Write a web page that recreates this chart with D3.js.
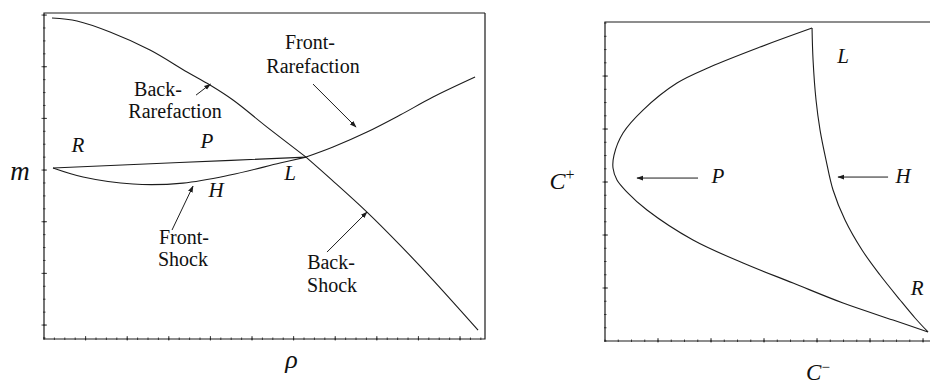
<!DOCTYPE html>
<html>
<head>
<meta charset="utf-8">
<script src="https://cdn.jsdelivr.net/npm/d3@7"></script>
<style>
  html, body { margin: 0; padding: 0; background: #fff; }
  svg { display: block; }
</style>
</head>
<body>
<svg id="chart" width="930" height="385"></svg>
<script>
// ---- Left panel: mass flux m against density rho ----
const backRarefaction = [
  [0.192, 5.942], [0.793, 5.884], [1.587, 5.671], [2.548, 5.322], [3.438, 4.897],
  [3.990, 4.645], [4.543, 4.355], [5.361, 3.832], [6.298, 3.251]
];
const backShock = [
  [6.298, 3.251], [6.923, 2.806], [7.764, 2.187], [8.558, 1.548], [9.351, 0.871], [10.433, -0.097]
];
const frontRarefaction = [
  [6.298, 3.251], [6.947, 3.445], [7.764, 3.735], [8.558, 4.064], [9.351, 4.413], [10.361, 4.800]
];
const frontShock = [
  [0.216, 3.039], [0.938, 2.865], [2.139, 2.729], [3.341, 2.748], [4.471, 2.903], [5.673, 3.135], [6.298, 3.251]
];
const pathP = [
  [0.216, 3.039], [3.257, 3.145], [6.298, 3.251]
];

// ---- Right panel: C+ against C- ----
const curveP = [
  [3.906, 5.906], [2.925, 5.547], [1.981, 5.170], [1.358, 4.868], [0.717, 4.358], [0.340, 3.925],
  [0.170, 3.509], [0.151, 3.264], [0.226, 3.038], [0.415, 2.811], [0.792, 2.472], [1.660, 1.906],
  [2.604, 1.472], [3.547, 1.094], [4.491, 0.717], [5.434, 0.396], [6.094, 0.170]
];
const curveH = [
  [3.906, 5.906], [3.925, 5.302], [3.981, 4.547], [4.057, 3.981], [4.170, 3.415], [4.302, 2.849],
  [4.528, 2.283], [4.849, 1.717], [5.189, 1.245], [5.566, 0.774], [5.849, 0.434], [6.094, 0.170]
];

// tick values
const leftXTicks = [1, 2, 3, 4, 5, 6, 7, 8, 9, 10];
const leftYTicks = [0, 1, 2, 3, 4, 5, 6];
const rightXTicks = [1, 2, 3, 4, 5, 6];
const rightYTicks = [1, 2, 3, 4, 5];

// text: point labels [text, x, y] and two-line notes [text, x, y]
const leftPointLabels = [["R", 0.817, 3.348], ["P", 3.918, 3.426], ["L", 5.913, 2.806], ["H", 4.135, 2.477]];
const leftNotes = [
  [["Back-", 2.740, 4.432], ["Rarefaction", 3.149, 4.007]],
  [["Front-", 6.394, 5.341], ["Rarefaction", 6.466, 4.878]],
  [["Front-", 3.365, 1.567], ["Shock", 3.341, 1.142]],
  [["Back-", 6.899, 1.083], ["Shock", 6.923, 0.639]]
];
const leftArrows = [
  [3.654, 4.451, 4.000, 4.664],
  [6.466, 4.664, 7.500, 3.832],
  [3.077, 1.839, 3.582, 2.690],
  [6.803, 1.413, 7.764, 2.187]
];
const rightPointLabels = [["L", 4.491, 5.245], ["P", 2.132, 2.981], ["H", 5.623, 2.981], ["R", 5.887, 0.868]];
const rightArrows = [
  [1.755, 3.075, 0.604, 3.075],
  [5.340, 3.094, 4.396, 3.094]
];

const svg = d3.select("#chart");
const ink = "#1c1c1c";
const serifFace = "Liberation Serif";

svg.append("defs").append("marker")
  .attr("id", "head").attr("viewBox", "0 0 10 10")
  .attr("refX", 9).attr("refY", 5)
  .attr("markerWidth", 7).attr("markerHeight", 7)
  .attr("markerUnits", "userSpaceOnUse")
  .attr("orient", "auto")
  .append("path").attr("d", "M0,1.5 L10,5 L0,8.5 Z").attr("fill", ink);

// Left panel scales
const lx = d3.scaleLinear().domain([0, 10.6]).range([44, 485]);
const ly = d3.scaleLinear().domain([-0.27, 6.04]).range([339, 13]);
// Right panel scales (right edge runs past the page)
const rx = d3.scaleLinear().domain([0, 6.15]).range([605, 931]);
const ry = d3.scaleLinear().domain([0, 6.02]).range([341, 22]);

function frame(g, x, y, closeRight) {
  const [x0, x1] = x.range(), [y1, y0] = y.range();
  const p = d3.path();
  p.moveTo(x1, y0); p.lineTo(x0, y0);
  p.lineTo(x0, y1); p.lineTo(x1, y1);
  if (closeRight) p.lineTo(x1, y0);
  g.append("path").attr("d", p.toString()).attr("fill", "none")
    .attr("stroke", ink).attr("stroke-width", 1.2);
}

function ticks(g, x, y, xt, yt, minorStep) {
  const [x0] = x.range(), [y1] = y.range();
  const xd = x.domain(), yd = y.domain();
  const minX = d3.range(Math.ceil(xd[0] / minorStep) * minorStep, xd[1], minorStep);
  const minY = d3.range(Math.ceil(yd[0] / minorStep) * minorStep, yd[1], minorStep);
  const gg = g.append("g").attr("stroke", ink).attr("stroke-width", 0.8);
  gg.selectAll(".mx").data(minX).join("line")
    .attr("x1", d => x(d)).attr("x2", d => x(d)).attr("y1", y1 - 1.5).attr("y2", y1 + 1);
  gg.selectAll(".my").data(minY).join("line")
    .attr("y1", d => y(d)).attr("y2", d => y(d)).attr("x1", x0 - 1).attr("x2", x0 + 1.5);
  gg.selectAll(".Mx").data(xt).join("line")
    .attr("x1", d => x(d)).attr("x2", d => x(d)).attr("y1", y1 - 3).attr("y2", y1 + 1.5);
  gg.selectAll(".My").data(yt).join("line")
    .attr("y1", d => y(d)).attr("y2", d => y(d)).attr("x1", x0 - 2.5).attr("x2", x0 + 3);
}

function curve(g, data, x, y) {
  const line = d3.line().x(d => x(d[0])).y(d => y(d[1])).curve(d3.curveCatmullRom.alpha(0.5));
  g.append("path").datum(data).attr("d", line).attr("fill", "none")
    .attr("stroke", ink).attr("stroke-width", 1.1);
}

function arrows(g, data, x, y) {
  g.selectAll(null).data(data).join("line")
    .attr("x1", d => x(d[0])).attr("y1", d => y(d[1]))
    .attr("x2", d => x(d[2])).attr("y2", d => y(d[3]))
    .attr("stroke", ink).attr("stroke-width", 1)
    .attr("marker-end", "url(#head)");
}

function pointLabels(g, data, x, y) {
  g.selectAll(null).data(data).join("text")
    .attr("font-family", serifFace).attr("font-style", "italic").attr("fill", "#111")
    .attr("x", d => x(d[1])).attr("y", d => y(d[2]))
    .attr("text-anchor", "middle").attr("font-size", 21)
    .text(d => d[0]);
}

// ---- draw left panel ----
const gl = svg.append("g");
frame(gl, lx, ly, true);
ticks(gl, lx, ly, leftXTicks, leftYTicks, 0.25);
curve(gl, backRarefaction, lx, ly);
curve(gl, backShock, lx, ly);
curve(gl, frontRarefaction, lx, ly);
curve(gl, frontShock, lx, ly);
curve(gl, pathP, lx, ly);
arrows(gl, leftArrows, lx, ly);
pointLabels(gl, leftPointLabels, lx, ly);
gl.selectAll(null).data(leftNotes.flat()).join("text")
  .attr("font-family", serifFace).attr("fill", "#111")
  .attr("x", d => lx(d[1])).attr("y", d => ly(d[2]))
  .attr("text-anchor", "middle").attr("font-size", 20)
  .text(d => d[0]);
gl.append("text").attr("font-family", serifFace).attr("font-style", "italic").attr("fill", "#111")
  .attr("x", 20).attr("y", 180)
  .attr("text-anchor", "middle").attr("font-size", 27).text("m");
gl.append("text").attr("font-family", serifFace).attr("font-style", "italic").attr("fill", "#111")
  .attr("x", (lx.range()[0] + lx.range()[1]) / 2 + 27).attr("y", 368)
  .attr("text-anchor", "middle").attr("font-size", 26).text("ρ");

// ---- draw right panel ----
const gr = svg.append("g");
frame(gr, rx, ry, false);
ticks(gr, rx, ry, rightXTicks, rightYTicks, 0.25);
curve(gr, curveP, rx, ry);
curve(gr, curveH, rx, ry);
arrows(gr, rightArrows, rx, ry);
pointLabels(gr, rightPointLabels, rx, ry);
const cp = gr.append("text").attr("font-family", serifFace).attr("font-style", "italic").attr("fill", "#111")
  .attr("x", 562).attr("y", 189).attr("text-anchor", "middle").attr("font-size", 24);
cp.append("tspan").text("C");
cp.append("tspan").attr("font-size", 16).attr("dy", -9).attr("font-style", "normal").text("+");
const cm = gr.append("text").attr("font-family", serifFace).attr("font-style", "italic").attr("fill", "#111")
  .attr("x", 818).attr("y", 380).attr("text-anchor", "middle").attr("font-size", 23);
cm.append("tspan").text("C");
cm.append("tspan").attr("font-size", 15).attr("dy", -8).attr("font-style", "normal").text("−");
</script>
</body>
</html>
